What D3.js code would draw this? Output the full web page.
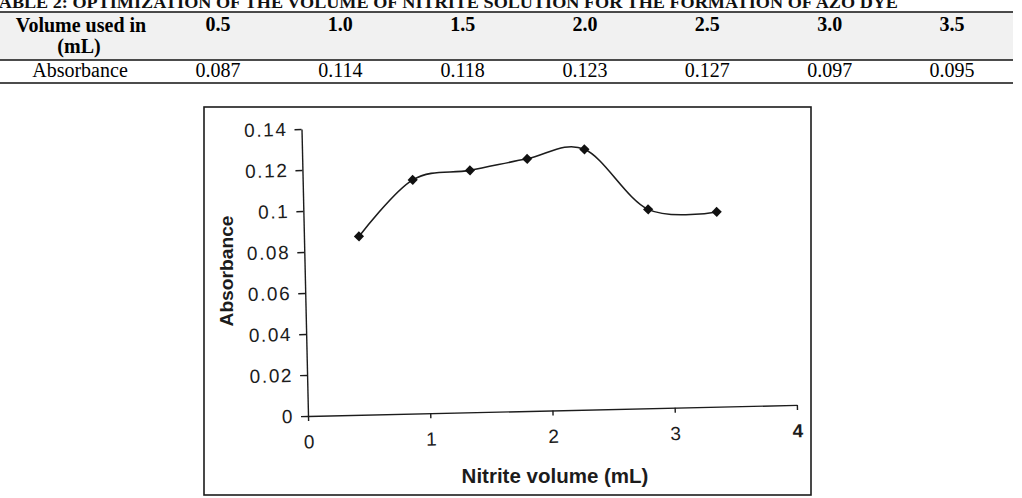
<!doctype html>
<html lang="en">

<head>
  <title>Nitrite volume optimization</title>
  <meta charset="utf-8">
  <style>
    body { margin: 0; background: #fff; }
    svg { display: block; }
  </style>
</head>

<body>
  <div id="chart"></div>

  <script src="https://d3js.org/d3.v7.min.js"></script>

  <script>
    // Data ------------------------------------------------------------------------------------------------------------
    const tableTitle = "TABLE 2: OPTIMIZATION OF THE VOLUME OF NITRITE SOLUTION FOR THE FORMATION OF AZO DYE";
    const volumes = ["0.5", "1.0", "1.5", "2.0", "2.5", "3.0", "3.5"];
    const absorbance = [0.087, 0.114, 0.118, 0.123, 0.127, 0.097, 0.095];
    // where the points actually sit on the scanned plot's x axis
    const plottedVolume = [0.45, 0.9, 1.37, 1.84, 2.31, 2.82, 3.38];
    const xTicks = [0, 1, 2, 3, 4];
    const yTicks = [0, 0.02, 0.04, 0.06, 0.08, 0.1, 0.12, 0.14];

    const width = 1022;
    const height = 498;
    const ink = "#1c1c1c";

    const svg = d3.select("#chart")
      .append("svg")
      .attr("width", width)
      .attr("height", height)
      .attr("viewBox", [0, 0, width, height]);

    // Table -----------------------------------------------------------------------------------------------------------
    const table = svg.append("g").attr("class", "table");
    const serif = "'Liberation Serif', 'Times New Roman', serif";

    table.append("text")
      .attr("x", -12)
      .attr("y", 8)
      .attr("textLength", 910)
      .attr("lengthAdjust", "spacingAndGlyphs")
      .style("font", "bold 17px " + serif)
      .style("fill", "#111")
      .text(tableTitle);

    table.append("rect")
      .attr("x", 0)
      .attr("y", 12)
      .attr("width", 1013)
      .attr("height", 48)
      .style("fill", "#f1f1f1");

    [12, 60, 83].forEach(y => {
      table.append("line")
        .attr("x1", 0)
        .attr("x2", 1013)
        .attr("y1", y)
        .attr("y2", y)
        .style("stroke", "#111")
        .style("stroke-width", 1.3);
    });

    const colX = d3.scalePoint()
      .domain(volumes)
      .range([218, 952]);

    table.append("text")
      .attr("x", 81).attr("y", 32)
      .attr("text-anchor", "middle")
      .style("font", "bold 20px " + serif)
      .text("Volume used in");
    table.append("text")
      .attr("x", 79).attr("y", 53)
      .attr("text-anchor", "middle")
      .style("font", "bold 20px " + serif)
      .text("(mL)");
    table.append("text")
      .attr("x", 80).attr("y", 77)
      .attr("text-anchor", "middle")
      .style("font", "20px " + serif)
      .text("Absorbance");

    table.selectAll(".vol")
      .data(volumes)
      .enter()
      .append("text")
      .attr("class", "vol")
      .attr("x", d => colX(d))
      .attr("y", 31)
      .attr("text-anchor", "middle")
      .style("font", "bold 20px " + serif)
      .text(d => d);

    table.selectAll(".abs")
      .data(absorbance)
      .enter()
      .append("text")
      .attr("class", "abs")
      .attr("x", (d, i) => colX(volumes[i]))
      .attr("y", 77)
      .attr("text-anchor", "middle")
      .style("font", "20px " + serif)
      .text(d => d.toFixed(3));

    // Figure frame ----------------------------------------------------------------------------------------------------
    svg.append("rect")
      .attr("x", 204)
      .attr("y", 107)
      .attr("width", 607)
      .attr("height", 388)
      .style("fill", "none")
      .style("stroke", ink)
      .style("stroke-width", 1.6);

    // Plot (the scan is tilted slightly) ------------------------------------------------------------------------------
    const x0 = 308;
    const y0 = 416;

    const x = d3.scaleLinear().domain([0, 4]).range([x0, 797]);
    const y = d3.scaleLinear().domain([0, 0.14]).range([y0, 129]);

    const plot = svg.append("g")
      .attr("transform", "rotate(-1.3," + x0 + "," + y0 + ")");

    const sans = "'Liberation Sans', Arial, sans-serif";

    const yAxis = plot.append("g")
      .attr("transform", "translate(" + x0 + ",0)")
      .call(d3.axisLeft(y)
        .tickValues(yTicks)
        .tickFormat(d => d === 0 ? "0" : String(+d.toFixed(2)))
        .tickSize(7)
        .tickSizeOuter(0)
        .tickPadding(7));

    const xAxis = plot.append("g")
      .attr("transform", "translate(0," + y0 + ")")
      .call(d3.axisBottom(x)
        .tickValues(xTicks)
        .tickFormat(d3.format("d"))
        .tickSize(5)
        .tickSizeOuter(0)
        .tickPadding(14));

    [yAxis, xAxis].forEach(ax => {
      ax.selectAll("path, line")
        .style("stroke", ink)
        .style("stroke-width", 1.4);
      ax.selectAll("text")
        .style("font", "19px " + sans)
        .style("fill", ink);
    });
    yAxis.selectAll("text").style("letter-spacing", "1.6px");
    xAxis.selectAll("text").filter(d => d === 4).style("font-weight", "bold");

    const points = plottedVolume.map((v, i) => [v, absorbance[i]]);

    plot.append("path")
      .datum(points)
      .attr("d", d3.line()
        .x(d => x(d[0]))
        .y(d => y(d[1]))
        .curve(d3.curveCardinal.tension(0)))
      .style("fill", "none")
      .style("stroke", ink)
      .style("stroke-width", 1.6);

    plot.selectAll(".marker")
      .data(points)
      .enter()
      .append("path")
      .attr("class", "marker")
      .attr("d", d3.symbol(d3.symbolSquare, 52))
      .attr("transform", d => "translate(" + x(d[0]) + "," + y(d[1]) + ") rotate(45)")
      .style("fill", "#111");

    // Axis titles -----------------------------------------------------------------------------------------------------
    svg.append("text")
      .attr("transform", "translate(233,271) rotate(-90)")
      .attr("text-anchor", "middle")
      .attr("textLength", 111)
      .attr("lengthAdjust", "spacingAndGlyphs")
      .style("font", "bold 19px " + sans)
      .style("fill", ink)
      .text("Absorbance");

    svg.append("text")
      .attr("x", 555)
      .attr("y", 483)
      .attr("text-anchor", "middle")
      .style("font", "bold 20.5px " + sans)
      .style("fill", ink)
      .text("Nitrite volume (mL)");
  </script>

</body>

</html>
